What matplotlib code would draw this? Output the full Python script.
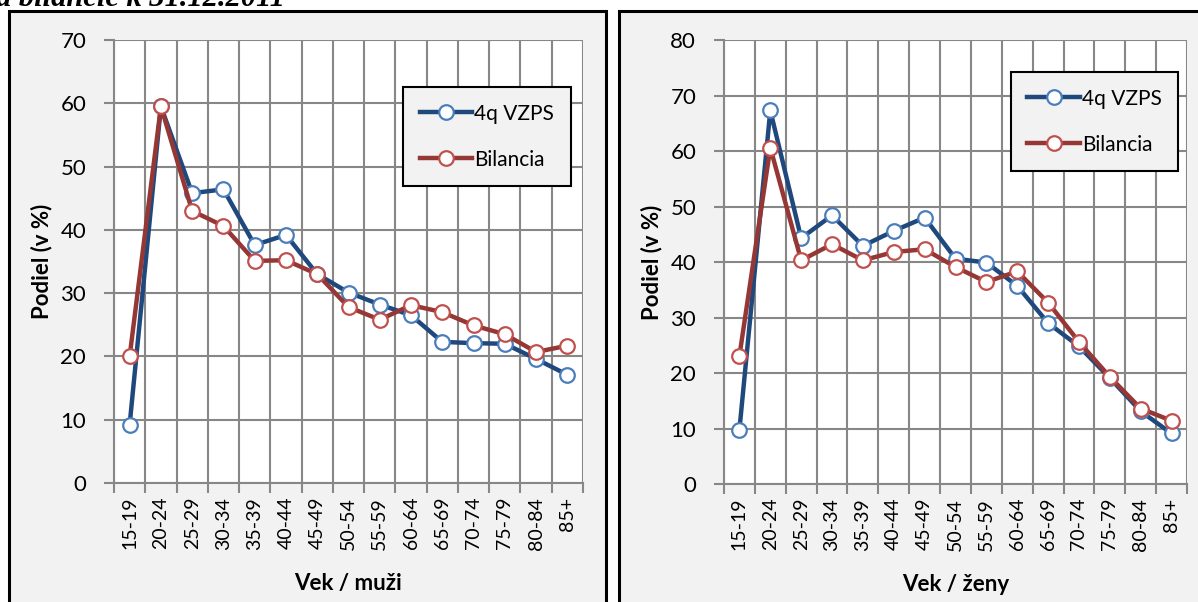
import numpy as np
import matplotlib.pyplot as plt
from matplotlib.patches import Rectangle

# age groups and shares (%) per source
vek = ['15-19', '20-24', '25-29', '30-34', '35-39', '40-44', '45-49', '50-54',
       '55-59', '60-64', '65-69', '70-74', '75-79', '80-84', '85+']

muzi_vzps = [9.2, 59.5, 45.8, 46.4, 37.6, 39.2, 33.0, 30.1, 28.2, 26.5, 22.3, 22.1, 22.0, 19.6, 17.1]
muzi_bil = [20.0, 59.5, 43.0, 40.6, 35.1, 35.2, 33.0, 27.8, 25.8, 28.1, 27.0, 24.9, 23.5, 20.7, 21.7]

zeny_vzps = [9.8, 67.3, 44.3, 48.4, 42.9, 45.6, 48.0, 40.6, 39.9, 35.7, 29.0, 24.8, 19.1, 13.1, 9.1]
zeny_bil = [23.1, 60.6, 40.3, 43.2, 40.3, 41.8, 42.3, 39.1, 36.4, 38.3, 32.7, 25.6, 19.3, 13.6, 11.4]

plt.rcParams['font.family'] = ['Lato', 'DejaVu Sans']

fig = plt.figure(figsize=(11.98, 6.02), dpi=100)
W, H = 1198, 602

# chart frames
for x0, x1 in [(9, 606), (619, 1203)]:
    fig.patches.append(Rectangle((x0 / W, -0.05), (x1 - x0) / W, 1.05 - 11 / H,
                                 transform=fig.transFigure, facecolor='#f2f2f2',
                                 edgecolor='black', linewidth=2.2, zorder=-5))

fig.text(-0.003, 1 - 6 / H, 'a bilancie k 31.12.2011', family='Liberation Serif',
         fontsize=22, fontweight='bold', style='italic', va='baseline', ha='left')

def panel(rect, vzps, bil, ymax, xlabel, leg_anchor):
    ax = fig.add_axes(rect)
    ax.set_facecolor('white')
    x = np.arange(len(vek))
    ax.plot(x, vzps, color='#1f497d', lw=3.2, marker='o', ms=10.5,
            mfc='white', mec='#4a7ebb', mew=1.6, label='4q VZPS', zorder=3)
    ax.plot(x, bil, color='#953735', lw=3.2, marker='o', ms=10.5,
            mfc='white', mec='#c0504d', mew=1.6, label='Bilancia', zorder=3)
    ax.set_xlim(-0.5, len(vek) - 0.5)
    ax.set_ylim(0, ymax)
    ax.set_yticks(np.arange(0, ymax + 1, 10))
    ax.set_xticks(x)
    ax.set_xticklabels(vek, rotation=90, fontsize=14)
    ax.set_xticks(np.arange(-0.5, len(vek)), minor=True)
    ax.tick_params(axis='x', which='major', length=0, pad=10)
    ax.tick_params(axis='x', which='minor', length=7, width=1.5, color='#878787')
    ax.tick_params(axis='y', length=7, width=1.5, color='#878787', labelsize=16, pad=13)
    ax.grid(True, which='minor', axis='x', color='#878787', lw=1.5)
    ax.grid(True, which='major', axis='y', color='#878787', lw=1.5)
    for s in ['top', 'right']:
        ax.spines[s].set_visible(False)
    for s in ['left', 'bottom']:
        ax.spines[s].set_color('#878787')
        ax.spines[s].set_linewidth(1.5)
    ax.set_axisbelow(True)
    ax.set_ylabel('Podiel (v %)', fontsize=16, fontweight='bold', labelpad=6)
    ax.set_xlabel(xlabel, fontsize=16, fontweight='bold', labelpad=17)
    leg = ax.legend(loc='upper right', bbox_to_anchor=leg_anchor, borderaxespad=0,
                    fontsize=15, handlelength=2.5, labelspacing=1.25,
                    borderpad=0.8, handletextpad=0.1, fancybox=False,
                    framealpha=1, facecolor='#f2f2f2', edgecolor='black')
    leg.get_frame().set_linewidth(1.5)
    return ax

panel([114 / W, 1 - 483 / H, 469 / W, 443 / H], muzi_vzps, muzi_bil, 70,
      'Vek / muži', (0.974, 0.894))
panel([724 / W, 1 - 484 / H, 463 / W, 444 / H], zeny_vzps, zeny_bil, 80,
      'Vek / ženy', (0.981, 0.928))

fig.savefig('out.png', dpi=100)
